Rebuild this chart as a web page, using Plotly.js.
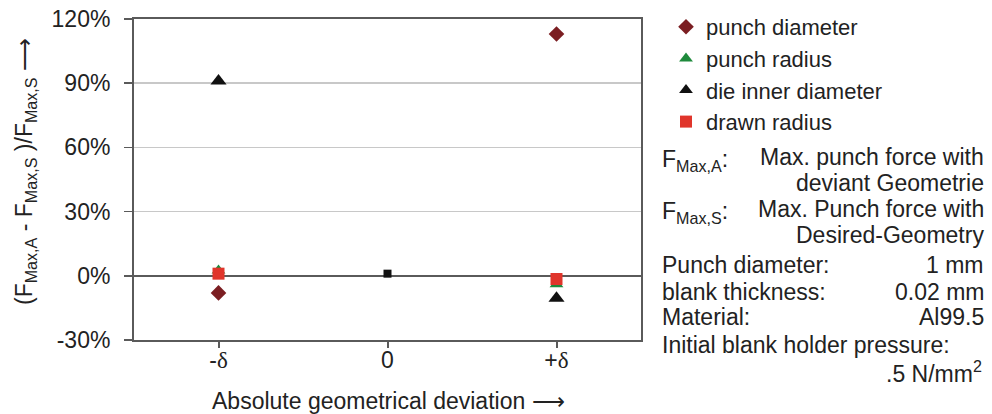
<!DOCTYPE html>
<html>
<head>
<meta charset="utf-8">
<script src="https://cdn.plot.ly/plotly-3.0.1.min.js"></script>
<style>body{margin:0;padding:0;background:#fff}#chart{width:992px;height:414px}</style>
</head>
<body>
<div id="chart"></div>
<script>
// ---- data ----
var categories = ["-δ", "0", "+δ"];
var tickLabels = ['-<span style="font-family:\'Liberation Serif\'">δ</span>', '0', '+<span style="font-family:\'Liberation Serif\'">δ</span>'];
var seriesNames = ["punch diameter", "punch radius", "die inner diameter", "drawn radius"];
var punchDiameter = [-8, null, 113];
var punchRadius = [2.5, null, -4];
var dieInnerDiameter = [91, null, -10.5];
var drawnRadius = [1, null, -1.5];
var desiredGeometry = [null, 1, null];
var yTicks = [-30, 0, 30, 60, 90, 120];
var yTickLabels = ["-30%", "0%", "30%", "60%", "90%", "120%"];

// ---- layout helpers (pixel -> paper) ----
var L = 134, R = 641, T = 19, B = 340;
function px(x){ return (x - L) / (R - L); }
function py(y){ return (B - y) / (B - T); }

var font = {family: "Liberation Sans, Arial, sans-serif", size: 23, color: "#222"};
var legendFont = {family: "Liberation Sans, Arial, sans-serif", size: 22, color: "#222"};
var axisCol = "#5a5a5a";

var traces = [
  {x: categories, y: punchDiameter, name: seriesNames[0], type: "scatter", mode: "markers",
   marker: {symbol: "diamond", size: 12, color: "#7b1e22"}},
  {x: categories, y: punchRadius, name: seriesNames[1], type: "scatter", mode: "markers",
   marker: {symbol: "triangle-up", size: 12, color: "#1e8a3c"}},
  {x: categories, y: dieInnerDiameter, name: seriesNames[2], type: "scatter", mode: "markers",
   marker: {symbol: "triangle-up", size: 14, color: "#111"}},
  {x: categories, y: drawnRadius, name: seriesNames[3], type: "scatter", mode: "markers",
   marker: {symbol: "square", size: 12, color: "#e0352b"}},
  {x: categories, y: desiredGeometry, name: "desired geometry", type: "scatter", mode: "markers",
   showlegend: false, marker: {symbol: "square", size: 8, color: "#111"}}
];

function ann(text, x, y, xanchor){
  return {text: text, xref: "paper", yref: "paper", x: px(x), y: py(y),
          xanchor: xanchor || "left", yanchor: "middle", showarrow: false, font: font};
}

var annotations = [
  // axis titles
  {text: "(F<sub>Max,A</sub> - F<sub>Max,S</sub> )/F<sub>Max,S</sub> ⟶", xref: "paper", yref: "paper",
   x: px(25), y: py(172), xanchor: "center", yanchor: "middle", textangle: -90,
   showarrow: false, font: font},
  {text: "Absolute geometrical deviation ⟶", xref: "paper", yref: "paper",
   x: px(388), y: py(401), xanchor: "center", yanchor: "middle",
   showarrow: false, font: font},
  // side notes
  ann("F<sub>Max,A</sub>:", 660, 160),
  ann("Max. punch force with", 986, 157, "right"),
  ann("deviant Geometrie", 986, 183, "right"),
  ann("F<sub>Max,S</sub>:", 660, 212),
  ann("Max. Punch force with", 986, 209, "right"),
  ann("Desired-Geometry", 986, 235, "right"),
  ann("Punch diameter:", 660, 265),
  ann("1 mm", 986, 265, "right"),
  ann("blank thickness:", 660, 292),
  ann("0.02 mm", 986, 292, "right"),
  ann("Material:", 660, 317),
  ann("Al99.5", 986, 317, "right"),
  ann("Initial blank holder pressure:", 660, 345),
  ann(".5 N/mm<sup>2</sup>", 984, 372, "right")
];

var layout = {
  width: 992, height: 414,
  margin: {l: L, r: 992 - R, t: T, b: 414 - B, pad: 0, autoexpand: false},
  paper_bgcolor: "#fff", plot_bgcolor: "#fff",
  font: font,
  showlegend: true,
  legend: {x: px(666), y: py(6), xanchor: "left", yanchor: "top",
           font: legendFont, itemsizing: "constant", bgcolor: "rgba(0,0,0,0)",
           tracegroupgap: 0, itemwidth: 30},
  xaxis: {
    type: "category", categoryorder: "array", categoryarray: categories,
    range: [-0.5, 2.5], tickvals: categories, ticktext: tickLabels,
    showline: true, mirror: true, linecolor: axisCol, linewidth: 2,
    ticks: "outside", ticklen: 6, tickwidth: 2, tickcolor: axisCol,
    ticklabelstandoff: -8,
    showgrid: false, zeroline: false, tickfont: font
  },
  yaxis: {
    range: [-30, 120], tickvals: yTicks, ticktext: yTickLabels,
    showline: true, mirror: true, linecolor: axisCol, linewidth: 2,
    ticks: "outside", ticklen: 8, tickwidth: 1.5, tickcolor: axisCol,
    ticklabelstandoff: 9,
    showgrid: true, gridcolor: "#c8c8c8", gridwidth: 1.5,
    zeroline: true, zerolinecolor: axisCol, zerolinewidth: 1.5,
    tickfont: font
  },
  annotations: annotations
};

Plotly.newPlot("chart", traces, layout, {displayModeBar: false, staticPlot: true});
</script>
</body>
</html>
